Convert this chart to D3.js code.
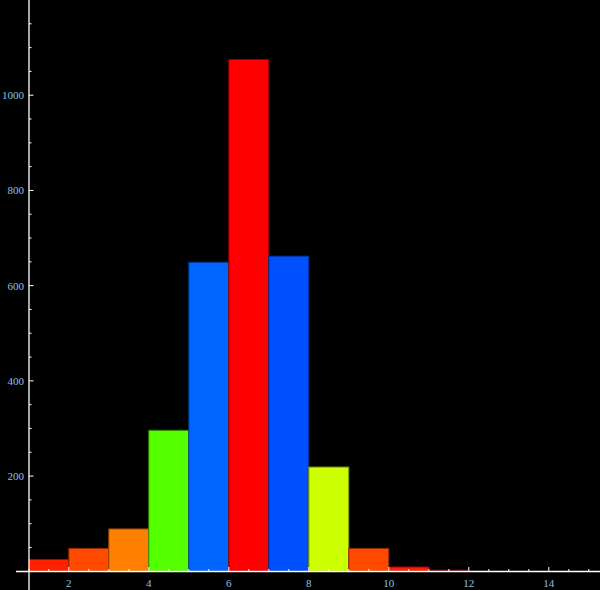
<!DOCTYPE html>
<html><head><meta charset="utf-8">
<script src="https://cdn.jsdelivr.net/npm/d3@7"></script>
<style>body{margin:0;background:#000}svg{display:block}</style>
</head><body>
<script>
const binStarts = [1,2,3,4,5,6,7,8,9,10,11];
const counts = [25,48,89,296,649,1075,662,219,48,9,3];
const colors = ["#ff2200","#ff4a00","#ff8000","#55ff00","#0066ff","#ff0000","#0050ff","#ccff00","#ff4a00","#ff1a00","#8b0000"];
const xMajorTicks = [2,4,6,8,10,12,14];
const yMajorTicks = [200,400,600,800,1000];

const W=600,H=590;
const svg=d3.select("body").append("svg").attr("width",W).attr("height",H).style("background","#000");
const x=d3.scaleLinear().domain([1,15]).range([28.8,588.8]);
const y=d3.scaleLinear().domain([0,1200]).range([571.3,0]);

svg.selectAll("rect.bar").data(binStarts).enter().append("rect")
 .attr("x",d=>x(d)).attr("width",d=>x(d+1)-x(d))
 .attr("y",(d,i)=>y(counts[i])).attr("height",(d,i)=>y(0)-y(counts[i]))
 .attr("fill",(d,i)=>colors[i])
 .attr("stroke",(d,i)=>d3.color(colors[i]).darker(1.6))
 .attr("stroke-width",1);

const labelColor="#86c4e6";
// x axis
svg.append("line").attr("x1",16).attr("x2",600).attr("y1",571.5).attr("y2",571.5).attr("stroke","#fff").attr("stroke-width",1.3);
const xMinor=d3.range(1,15.01,0.5);
svg.selectAll("line.xt").data(xMinor).enter().append("line")
 .attr("x1",d=>x(d)).attr("x2",d=>x(d)).attr("y1",571)
 .attr("y2",d=>xMajorTicks.includes(d)?567:569).attr("stroke","#fff").attr("stroke-width",1);
svg.selectAll("text.xl").data(xMajorTicks).enter().append("text")
 .attr("x",d=>x(d)).attr("y",587).attr("text-anchor","middle")
 .attr("font-family","Liberation Serif, serif").attr("font-size",11).attr("fill",labelColor).text(d=>d);
// y axis
svg.append("line").attr("x1",29).attr("x2",29).attr("y1",0).attr("y2",590).attr("stroke","#fff").attr("stroke-width",1.3);
const yMinor=d3.range(50,1200,50);
svg.selectAll("line.yt").data(yMinor).enter().append("line")
 .attr("x1",29).attr("x2",d=>yMajorTicks.includes(d)?33.5:31.5)
 .attr("y1",d=>y(d)).attr("y2",d=>y(d)).attr("stroke","#fff").attr("stroke-width",1);
svg.selectAll("text.yl").data(yMajorTicks).enter().append("text")
 .attr("x",24).attr("y",d=>y(d)+4).attr("text-anchor","end")
 .attr("font-family","Liberation Serif, serif").attr("font-size",11).attr("fill",labelColor).text(d=>d);
</script>
</body></html>
